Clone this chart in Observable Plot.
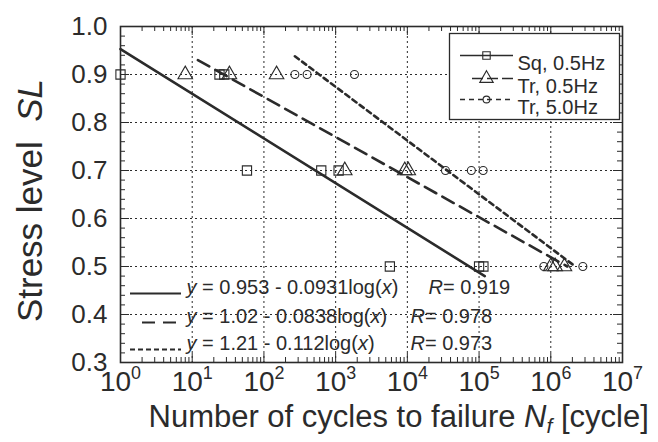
<!DOCTYPE html>
<html>
<head>
<meta charset="utf-8">
<script src="https://cdn.jsdelivr.net/npm/d3@7"></script>
<script src="https://cdn.jsdelivr.net/npm/@observablehq/plot@0.6"></script>
<style>
  html, body { margin: 0; padding: 0; background: #fff; }
  svg text { white-space: pre; }
</style>
</head>
<body>
<div id="chart"></div>
<script>
// ---- data ----
const xMajor = [1, 10, 100, 1e3, 1e4, 1e5, 1e6, 1e7];
const xTickLabels = ["10^0^", "10^1^", "10^2^", "10^3^", "10^4^", "10^5^", "10^6^", "10^7^"];
const yMajor = [0.3, 0.4, 0.5, 0.6, 0.7, 0.8, 0.9, 1.0];
const yTickLabels = ["0.3", "0.4", "0.5", "0.6", "0.7", "0.8", "0.9", "1.0"];
const yDomain = [0.3, 1.0];

const sqN  = [1, 24, 28, 58, 630, 1100, 5700, 100000, 115000];
const sqSL = [0.9, 0.9, 0.9, 0.7, 0.7, 0.7, 0.5, 0.5, 0.5];
const tr05N  = [8, 33, 150, 1340, 9200, 10300, 1.0e6, 1.15e6, 1.55e6];
const tr05SL = [0.9, 0.9, 0.9, 0.7, 0.7, 0.7, 0.5, 0.5, 0.5];
const tr50N  = [270, 400, 1830, 34000, 78000, 114000, 8.0e5, 2.8e6];
const tr50SL = [0.9, 0.9, 0.9, 0.7, 0.7, 0.7, 0.5, 0.5];

// fitted lines (end points)
const sqFitN = [1, 1.2e5],     sqFitSL = [0.953, 0.480];
const tr05FitN = [12, 1.7e6],  tr05FitSL = [0.930, 0.500];
const tr50FitN = [270, 2.2e6], tr50FitSL = [0.938, 0.500];

const legendLabels = ["Sq, 0.5Hz", "Tr, 0.5Hz", "Tr, 5.0Hz"];
const eqTexts = ["*y* = 0.953 - 0.0931log(*x*)", "*y* = 1.02 - 0.0838log(*x*)", "*y* = 1.21 - 0.112log(*x*)"];
const rTexts = ["*R*= 0.919", "*R*= 0.978", "*R*= 0.973"];
const xTitle = "Number of cycles to failure *N*~f~ [cycle]";
const yTitle = "Stress level\u00a0\u00a0*SL*";

// ---- build tables ----
const zip = (xs, ys) => xs.map((x, i) => ({x, y: ys[i]}));
const sq = zip(sqN, sqSL), tr05 = zip(tr05N, tr05SL), tr50 = zip(tr50N, tr50SL);
const sqFit = zip(sqFitN, sqFitSL), tr05Fit = zip(tr05FitN, tr05FitSL), tr50Fit = zip(tr50FitN, tr50FitSL);

const xMinor = [];
for (let d = 0; d < 7; d++) for (let k = 2; k <= 9; k++) xMinor.push(k * xMajor[d]);
const yMinor = d3.ticks(yDomain[0], yDomain[1], 35).filter(v => !yMajor.some(m => Math.abs(m - v) < 1e-9));

const W = 658, H = 442, mL = 120, mR = 36, mT = 26, mB = 80;
const pw = W - mL - mR, ph = H - mT - mB;
const ink = "#2b2b2b";
const font = "Liberation Sans, Arial, Helvetica, sans-serif";

const styles = [
  {data: sq, symbol: "square", r: 5.2, dash: null},
  {data: tr05, symbol: "triangle", r: 5.4, dash: "13,7"},
  {data: tr50, symbol: "circle", r: 4, dash: "5,4"}
];
const fits = [sqFit, tr05Fit, tr50Fit];

const marks = [
  // grid
  Plot.ruleX(xMajor.slice(1, -1), {stroke: ink, strokeWidth: 1, strokeDasharray: "2,3"}),
  Plot.ruleY(yMajor.slice(1, -1), {stroke: ink, strokeWidth: 1, strokeDasharray: "2,3"}),
  // ticks (inward), bottom & top, left & right
  Plot.ruleX(xMinor, {stroke: ink, strokeWidth: 1, insetTop: ph - 5}),
  Plot.ruleX(xMinor, {stroke: ink, strokeWidth: 1, insetBottom: ph - 5}),
  Plot.ruleX(xMajor, {stroke: ink, strokeWidth: 1, insetTop: ph - 9}),
  Plot.ruleX(xMajor, {stroke: ink, strokeWidth: 1, insetBottom: ph - 9}),
  Plot.ruleY(yMinor, {stroke: ink, strokeWidth: 1, insetRight: pw - 5}),
  Plot.ruleY(yMinor, {stroke: ink, strokeWidth: 1, insetLeft: pw - 5}),
  Plot.ruleY(yMajor, {stroke: ink, strokeWidth: 1, insetRight: pw - 9}),
  Plot.ruleY(yMajor, {stroke: ink, strokeWidth: 1, insetLeft: pw - 9}),
  // fit lines
  ...fits.map((f, i) => Plot.line(f, {x: "x", y: "y", stroke: ink, strokeWidth: 2.6, strokeDasharray: styles[i].dash})),
  // data points
  ...styles.map(s => Plot.dot(s.data, {x: "x", y: "y", symbol: s.symbol, r: s.r, stroke: ink, strokeWidth: 1.1, fill: "none"})),
  Plot.frame({stroke: ink, strokeWidth: 1.6}),
  // tick labels
  Plot.text(xMajor, {x: d => d, frameAnchor: "bottom", text: (d, i) => xTickLabels[i], dy: 28, textAnchor: "middle", fontSize: 28, fill: ink, fontFamily: font}),
  Plot.text(yMajor, {y: d => d, frameAnchor: "left", text: (d, i) => yTickLabels[i], dx: -13, textAnchor: "end", fontSize: 26, fill: ink, fontFamily: font}),
  // axis titles
  Plot.text([xTitle], {frameAnchor: "bottom-left", text: d => d, dx: 28, dy: 64, textAnchor: "start", fontSize: 31, fill: ink, fontFamily: font}),
  Plot.text([yTitle], {frameAnchor: "left", text: d => d, dx: -90, dy: 6, rotate: -90, textAnchor: "middle", fontSize: 35, fill: ink, fontFamily: font}),
  // legend box (upper right)
  Plot.frame({fill: "white", stroke: ink, strokeWidth: 1.3, insetLeft: 329, insetTop: 7, insetRight: 3, insetBottom: 243}),
];

const legRowDy = [29, 52, 73];
const legLineInsetLeft = [340, 352, 340];
legendLabels.forEach((lab, i) => {
  marks.push(Plot.ruleY([yDomain[1]], {dy: legRowDy[i], insetLeft: legLineInsetLeft[i], insetRight: 109, stroke: ink, strokeWidth: 1.5, strokeDasharray: i === 0 ? null : (i === 1 ? "11,4" : "5,4")}));
  marks.push(Plot.dot([lab], {frameAnchor: "top-right", dx: -136, dy: legRowDy[i], symbol: styles[i].symbol, r: i === 2 ? 3.4 : (i === 1 ? 5 : 4.2), stroke: ink, strokeWidth: 1.1, fill: "none"}));
  marks.push(Plot.text([lab], {frameAnchor: "top-right", text: d => d, dx: -105, dy: legRowDy[i], textAnchor: "start", fontSize: 20, fill: ink, fontFamily: font}));
});

// equation legend (lower left)
const eqRowDy = [-69, -40, -13];
const eqInsetLeft = [10, 22, 10], eqInsetRight = [441, 444, 441];
const eqDash = [null, "13,8", "5,3"];
const rDx = [308, 290, 290];
eqTexts.forEach((t, i) => {
  marks.push(Plot.ruleY([yDomain[0]], {dy: eqRowDy[i], insetLeft: eqInsetLeft[i], insetRight: eqInsetRight[i], stroke: ink, strokeWidth: 2.2, strokeDasharray: eqDash[i]}));
  marks.push(Plot.text([t], {frameAnchor: "bottom-left", text: d => d, dx: 66, dy: eqRowDy[i], textAnchor: "start", fontSize: 20, fill: ink, fontFamily: font}));
  marks.push(Plot.text([rTexts[i]], {frameAnchor: "bottom-left", text: d => d, dx: rDx[i], dy: eqRowDy[i], textAnchor: "start", fontSize: 20, fill: ink, fontFamily: font}));
});

const svg = Plot.plot({
  width: W, height: H,
  marginLeft: mL, marginRight: mR, marginTop: mT, marginBottom: mB,
  style: {fontFamily: font, background: "white", color: ink, overflow: "visible"},
  x: {type: "log", domain: [xMajor[0], xMajor[xMajor.length - 1]], axis: null},
  y: {domain: yDomain, axis: null},
  marks
});
document.getElementById("chart").appendChild(svg);

// rich text: *italic*, ^superscript^, ~italic subscript~
const NS = "http://www.w3.org/2000/svg";
for (const t of svg.querySelectorAll("text")) {
  const s = t.textContent;
  if (!/[*^~]/.test(s)) continue;
  const fs = parseFloat(getComputedStyle(t).fontSize) || 16;
  while (t.firstChild) t.removeChild(t.firstChild);
  const re = /\*([^*]+)\*|\^([^^]+)\^|~([^~]+)~|([^*^~]+)/g;
  let m, shift = 0;
  while ((m = re.exec(s))) {
    const ts = document.createElementNS(NS, "tspan");
    let target = 0;
    if (m[1]) { ts.textContent = m[1]; ts.setAttribute("font-style", "italic"); }
    else if (m[2]) { ts.textContent = m[2]; ts.setAttribute("font-size", (fs * 0.64).toFixed(1)); target = -0.43 * fs; }
    else if (m[3]) { ts.textContent = m[3]; ts.setAttribute("font-size", (fs * 0.68).toFixed(1)); ts.setAttribute("font-style", "italic"); target = 0.22 * fs; }
    else ts.textContent = m[4];
    if (target !== shift) { ts.setAttribute("dy", (target - shift).toFixed(1)); shift = target; }
    t.appendChild(ts);
  }
}
</script>
</body>
</html>
